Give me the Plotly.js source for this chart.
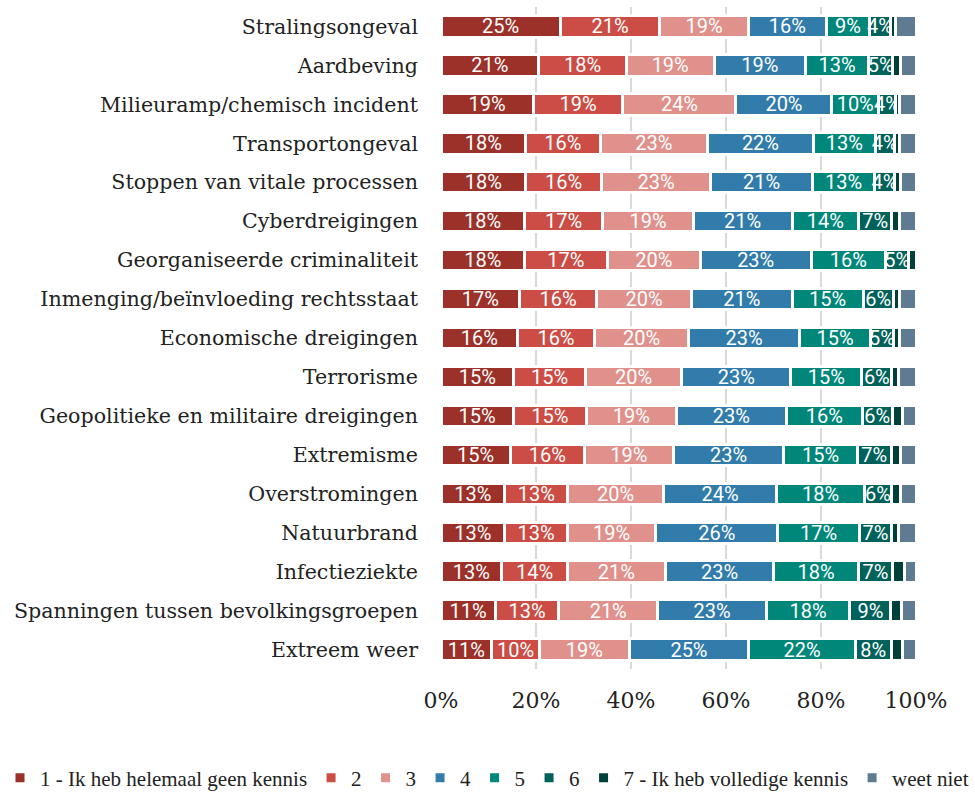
<!DOCTYPE html>
<html><head><meta charset="utf-8">
<script src="https://cdn.plot.ly/plotly-3.0.1.min.js"></script>
<style>html,body{margin:0;padding:0;background:#fff}</style>
</head><body><div id="chart" style="width:975px;height:794px"></div>
<script>
const categories = ["Stralingsongeval","Aardbeving","Milieuramp/chemisch incident","Transportongeval","Stoppen van vitale processen","Cyberdreigingen","Georganiseerde criminaliteit","Inmenging/beïnvloeding rechtsstaat","Economische dreigingen","Terrorisme","Geopolitieke en militaire dreigingen","Extremisme","Overstromingen","Natuurbrand","Infectieziekte","Spanningen tussen bevolkingsgroepen","Extreem weer"];
const seriesNames = ["1 - Ik heb helemaal geen kennis","2","3","4","5","6","7 - Ik heb volledige kennis","weet niet"];
const s1 = [25.1,20.6,19.4,17.8,17.8,17.5,17.6,16.6,16.1,15.3,15.2,14.6,13.4,13.4,12.8,11.4,10.7];
const s2 = [21.0,18.4,18.9,15.7,16.0,16.6,17.4,16.1,16.2,15.1,15.4,15.6,13.3,13.2,13.8,13.4,10.0];
const s3 = [18.6,18.5,23.8,22.6,23.0,19.0,19.6,20.1,19.9,20.3,18.9,18.7,20.1,18.6,20.6,20.8,18.9];
const s4 = [16.4,19.2,20.2,22.3,21.4,20.8,23.3,21.1,23.2,22.9,23.2,23.3,23.9,25.7,22.9,22.9,25.2];
const s5 = [9.1,13.4,9.8,13.0,13.1,14.0,15.7,15.0,15.1,15.0,16.0,15.4,18.4,17.2,17.7,17.6,22.4];
const s6 = [4.4,4.9,3.6,4.0,4.1,7.0,4.9,6.3,4.7,6.3,6.3,7.2,5.8,6.7,7.3,8.6,7.6];
const s7 = [1.0,1.8,0.8,1.2,1.3,1.7,1.5,1.3,1.3,1.4,2.2,2.0,1.9,1.6,2.4,2.2,2.4];
const sWeetNiet = [4.4,3.2,3.5,3.4,3.3,3.4,0,3.5,3.5,3.7,2.8,3.2,3.2,3.6,2.5,3.1,2.8];
const tickValues = [0,20,40,60,80,100];
const tickLabels = ["0%","20%","40%","60%","80%","100%"];

const seriesValues = [s1,s2,s3,s4,s5,s6,s7,sWeetNiet];
const colors = ["#9B3129","#CB4D45","#E0918C","#327CAB","#00877A","#00625A","#00403B","#5F7B91"];
const showLabel = [true,true,true,true,true,true,false,false];

const W = 975, H = 794;
const legendFont = {family:'Liberation Serif, serif', size:21, color:'#222'};

// measure legend text widths to lay the legend entries out in one row
const cv = document.createElement('canvas').getContext('2d');
cv.font = legendFont.size + 'px "Liberation Serif"';
const textW = seriesNames.map(n => cv.measureText(n).width);
const itemOverhead = 40, gap = 4;
const totalW = textW.reduce((a,b)=>a+b,0) + itemOverhead*seriesNames.length + gap*(seriesNames.length-1);
let xpos = Math.max(0, (W - totalW)/2 - 6);
const legendIds = seriesNames.map((n,i)=> i===0 ? 'legend' : 'legend'+(i+1));

const layout = {
  width:W, height:H,
  barmode:'stack', bargap:0.45,
  margin:{l:441, r:59, t:7, b:125, autoexpand:false},
  paper_bgcolor:'#ffffff', plot_bgcolor:'#ffffff',
  showlegend:true,
  xaxis:{range:[0,100], tickvals:tickValues, ticktext:tickLabels, showgrid:true, gridcolor:'#d9d9d9', gridwidth:2,
    zeroline:false, showline:false, ticks:'', ticklabelstandoff:16,
    tickfont:{family:'DejaVu Serif, serif', size:22, color:'#222'}, fixedrange:true},
  yaxis:{autorange:'reversed', showgrid:false, zeroline:false, showline:false, ticks:'', ticklabelstandoff:22,
    tickfont:{family:'DejaVu Serif, serif', size:20.6, color:'#222'}, fixedrange:true}
};

legendIds.forEach((id,i)=>{
  layout[id] = {orientation:'h', xref:'container', yref:'container', x:xpos/W, xanchor:'left',
    y:(H-778)/H, yanchor:'middle', font:legendFont, itemwidth:30, borderwidth:0, bgcolor:'rgba(0,0,0,0)'};
  xpos += textW[i] + itemOverhead + gap;
});

const traces = seriesValues.map((vals,i)=>({
  type:'bar', orientation:'h', name:seriesNames[i], legend:legendIds[i],
  x:vals, y:categories,
  marker:{color:colors[i], line:{color:'#ffffff', width:3}},
  texttemplate: showLabel[i] ? '%{x:.0f}%' : '',
  textposition: showLabel[i] ? 'inside' : 'none',
  insidetextanchor:'middle',
  textangle:0,
  constraintext:'none',
  insidetextfont:{family:'Roboto, sans-serif', size:20, color:'#ffffff'},
  hoverinfo:'skip'
}));

Plotly.newPlot('chart', traces, layout, {displayModeBar:false, staticPlot:true});
</script></body></html>
